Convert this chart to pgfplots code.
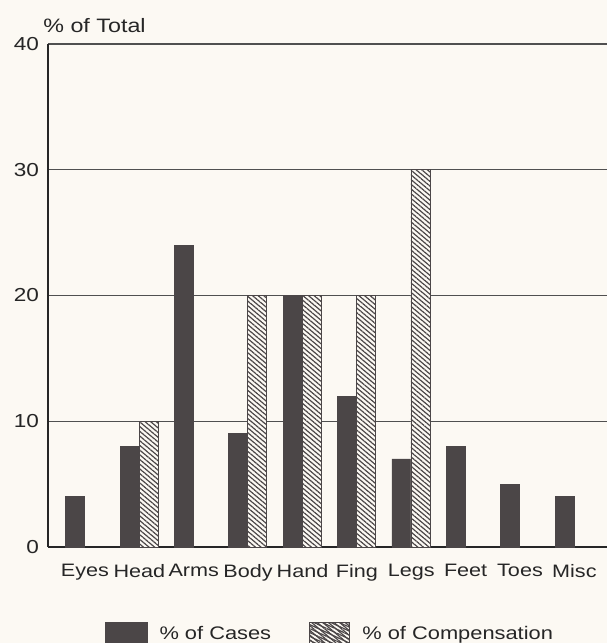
\documentclass[border=0pt]{standalone}
\usepackage{pgfplots}
\pgfplotsset{compat=1.18}
\usetikzlibrary{patterns.meta,backgrounds}
\usepackage{fontspec}
\setmainfont{Liberation Sans}[FakeStretch=1.2]
\definecolor{bardark}{HTML}{4B4647}
\definecolor{gridc}{HTML}{505050}
\definecolor{bg}{HTML}{FCF9F3}
\begin{document}
\begin{tikzpicture}
\begin{axis}[
  scale only axis, width=279.5pt, height=251.5pt,
  xmin=-0.5, xmax=9.78, ymin=0, ymax=40,
  axis x line*=bottom, axis y line*=left,
  axis line style={-, line width=1pt, black!85},
  ytick={0,10,20,30,40},
  ymajorgrids, grid style={gridc, line width=0.7pt},
  xtick={0.18,1.18,2.18,3.18,4.18,5.18,6.18,7.18,8.18,9.18},
  xticklabels={Eyes,Head,Arms,Body,Hand,Fing,Legs,Feet,Toes,Misc},
  major tick length=0pt,
  tick label style={font=\fontsize{9}{10}\selectfont, text=black!85},
  yticklabel style={font=\fontsize{9.4}{10}\selectfont, xshift=-1pt},
  /pgf/number format/assume math mode=true,
  xticklabel style={yshift=-5pt},
  every axis y label/.style={at={(rel axis cs:0,1)}, anchor=base west, inner sep=0pt, yshift=6pt, xshift=-2.5pt, font=\fontsize{9.7}{11}\selectfont, text=black!85},
  ylabel={\% of Total},
  legend style={at={(0.506,-0.175)}, anchor=center, draw=none, fill=none,
    font=\fontsize{9.1}{11}\selectfont, text=black!85,
    /tikz/every odd column/.append style={column sep=4pt},
    /tikz/every even column/.append style={column sep=17pt}},
  legend columns=2,
  clip=false,
]
\addplot[ybar, bar width=0.35, bar shift=0, fill=bardark, draw=bardark,
  legend image code/.code={\draw[fill=bardark, draw=bardark] (0pt,-7pt) rectangle (21pt,6pt);}]
  coordinates {(0,4) (1,8) (2,24) (3,9) (4,20) (5,12) (6,7) (7,8) (8,5) (9,4)};
\addlegendentry{\% of Cases}
\addplot[ybar, bar width=0.35, bar shift=0.35, draw=bardark, fill=bg,
  postaction={pattern={Lines[angle=-40, distance=1.8pt, line width=0.6pt]}, pattern color=bardark},
  legend image code/.code={\draw[draw=bardark, fill=bg, postaction={pattern={Lines[angle=-25, distance=1.8pt, line width=0.6pt]}, pattern color=bardark}] (0pt,-7pt) rectangle (20pt,6pt);}]
  coordinates {(1,10) (3,20) (4,20) (5,20) (6,30)};
\addlegendentry{\% of Compensation}
\coordinate (o) at (rel axis cs:0,0);
\end{axis}
\pgfresetboundingbox
\path[use as bounding box] (o) ++(-24pt,-48pt) rectangle ++(303.5pt,321.5pt);
\begin{scope}[on background layer]
\fill[bg] (o) ++(-24pt,-48pt) rectangle ++(303.5pt,321.5pt);
\end{scope}
\end{tikzpicture}
\end{document}
